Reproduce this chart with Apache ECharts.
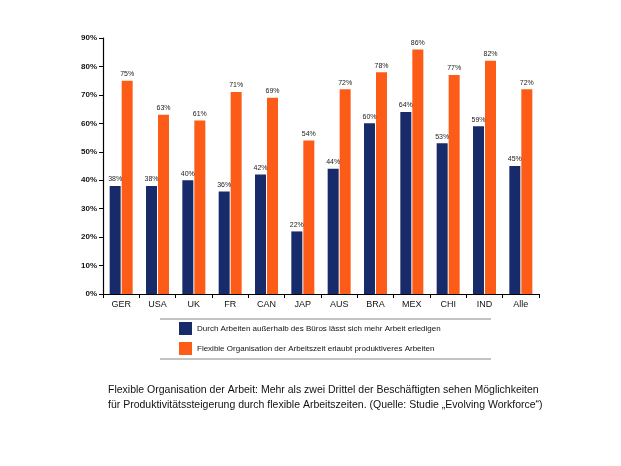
<!DOCTYPE html>
<html><head><meta charset="utf-8">
<script src="https://cdn.jsdelivr.net/npm/echarts@6/dist/echarts.min.js"></script>
<style>html,body{margin:0;padding:0;background:#fff}#c{width:621px;height:466px}</style>
</head><body><div id="c"></div>
<script>
var categories = ['GER','USA','UK','FR','CAN','JAP','AUS','BRA','MEX','CHI','IND','Alle'];
var seriesNames = ['Durch Arbeiten außerhalb des Büros lässt sich mehr Arbeit erledigen',
                   'Flexible Organisation der Arbeitszeit erlaubt produktiveres Arbeiten'];
var valuesOutside = [38,38,40,36,42,22,44,60,64,53,59,45];
var valuesFlexible = [75,63,61,71,69,54,72,78,86,77,82,72];
var caption = 'Flexible Organisation der Arbeit: Mehr als zwei Drittel der Beschäftigten sehen Möglichkeiten\nfür Produktivitätssteigerung durch flexible Arbeitszeiten. (Quelle: Studie „Evolving Workforce“)';

var font = 'Liberation Sans, Arial, sans-serif';
var chart = echarts.init(document.getElementById('c'), null, {renderer:'canvas'});
var lbl = {show:true, position:'top', formatter:'{c}%', fontSize:7, color:'#222', fontFamily:font, distance:3};
chart.setOption({
  animation:false,
  textStyle:{fontFamily:font},
  grid:{left:103, right:82, top:38, bottom:172, containLabel:false},
  legend:{
    orient:'vertical', left:179, top:322, padding:0, itemWidth:13, itemHeight:13, itemGap:7,
    icon:'rect', textStyle:{fontSize:8, color:'#111', fontFamily:font},
    data:seriesNames
  },
  graphic:[
    {type:'line', shape:{x1:160,y1:319,x2:491,y2:319}, style:{stroke:'#888', lineWidth:1.2}},
    {type:'line', shape:{x1:160,y1:359,x2:491,y2:359}, style:{stroke:'#888', lineWidth:1.2}},
    {type:'text', left:108, top:383, style:{text:caption, fontSize:10.5, lineHeight:15, fill:'#111', fontFamily:font}}
  ],
  xAxis:{
    type:'category', data:categories,
    axisLine:{show:true, lineStyle:{color:'#000', width:1}},
    axisTick:{show:true, alignWithLabel:false, length:4, lineStyle:{color:'#000'}},
    axisLabel:{fontSize:9, color:'#111', margin:6, fontFamily:font}
  },
  yAxis:{
    type:'value', min:0, max:90, interval:10,
    axisLine:{show:true, lineStyle:{color:'#000', width:1.2}},
    axisTick:{show:true, length:4, lineStyle:{color:'#000'}},
    splitLine:{show:false},
    axisLabel:{formatter:'{value}%', fontSize:8, fontWeight:'bold', color:'#111', margin:6, fontFamily:font}
  },
  series:[
    {name:seriesNames[0], type:'bar', data:valuesOutside, barWidth:11, barGap:'9%',
     itemStyle:{color:'#172a6a'}, label:lbl},
    {name:seriesNames[1], type:'bar', data:valuesFlexible, barWidth:11,
     itemStyle:{color:'#fc5c17'}, label:lbl}
  ]
});
</script></body></html>
